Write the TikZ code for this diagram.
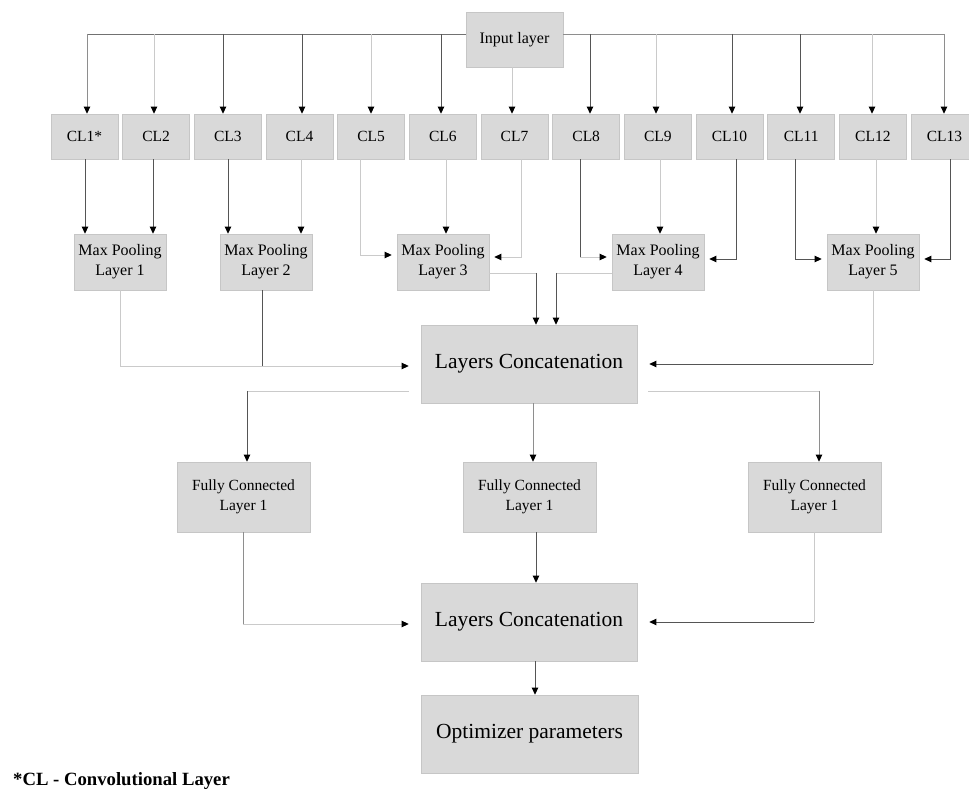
\documentclass[tikz,border=0pt]{standalone}
\usepackage{fontspec}
\setmainfont{Liberation Serif}
\usetikzlibrary{arrows.meta}
\definecolor{boxfill}{HTML}{D9D9D9}
\definecolor{boxline}{HTML}{C6C6C6}
\definecolor{dkc}{HTML}{555555}
\definecolor{mdc}{HTML}{8E8E8E}
\definecolor{ltc}{HTML}{CACACA}
\begin{document}
\begin{tikzpicture}[x=1pt,y=-1pt,
  box/.style={draw=boxline, fill=boxfill, line width=0.7pt, inner sep=0pt, align=center, text=black},
  clbox/.style={box, minimum width=67pt, minimum height=45pt, font=\fontsize{15.5}{17}\selectfont},
  mpbox/.style={box, minimum width=92pt, minimum height=56pt, font=\fontsize{16}{20}\selectfont},
  fcbox/.style={box, minimum width=133pt, minimum height=70pt, font=\fontsize{15.5}{20}\selectfont},
  bigbox/.style={box, minimum width=216pt, minimum height=78pt, font=\fontsize{21.5}{24}\selectfont},
  dk/.style={draw=dkc, line width=0.9pt},
  md/.style={draw=mdc, line width=0.9pt},
  lt/.style={draw=ltc, line width=0.9pt},
  tip/.style={-{Triangle[length=7pt,width=6.5pt,color=black]}},
  gap/.style={shorten >=5pt},
  biggap/.style={shorten >=12pt}
]
\useasboundingbox (0,0) rectangle (969,791);

% nodes
\node[box, minimum width=97pt, minimum height=55pt, font=\fontsize{16}{19}\selectfont] (inp) at (514.5,39.5) {Input layer};
\foreach \i/\lab in {1/CL1*,2/CL2,3/CL3,4/CL4,5/CL5,6/CL6,7/CL7,8/CL8,9/CL9,10/CL10,11/CL11,12/CL12,13/CL13}{
  \node[clbox] (cl\i) at ({84.5+71.67*(\i-1)},136.5) {\lab};
}
\node[mpbox] (mp1) at (120,262) {Max Pooling\\Layer 1};
\node[mpbox] (mp2) at (266,262) {Max Pooling\\Layer 2};
\node[mpbox] (mp3) at (443,262) {Max Pooling\\Layer 3};
\node[mpbox] (mp4) at (658,262) {Max Pooling\\Layer 4};
\node[mpbox] (mp5) at (873,262) {Max Pooling\\Layer 5};
\node[bigbox] (cc1) at (529,364) {Layers Concatenation};
\node[fcbox] (fc1) at (243.5,497) {Fully Connected\\Layer 1};
\node[fcbox] (fc2) at (529.5,497) {Fully Connected\\Layer 1};
\node[fcbox] (fc3) at (814.5,497) {Fully Connected\\Layer 1};
\node[bigbox] (cc2) at (529,622) {Layers Concatenation};
\node[bigbox, minimum width=217pt] (opt) at (529.5,734) {Optimizer parameters};
\node[anchor=base west, inner sep=0pt, font=\bfseries\fontsize{18.7}{20}\selectfont] (fn) at (13,785.5) {*CL - Convolutional Layer};

% bus from input layer
\coordinate (busL) at (87,34);
\coordinate (busR) at (944,34);
\draw[mdc!80!black, line width=0.9pt] (inp.west |- busL) -- (busL);
\draw[mdc, line width=0.9pt] (inp.east |- busR) -- (busR);
\foreach \x/\n/\s in {87/1/md,154/2/lt,223/3/dk,302/4/dk,371/5/lt,441/6/dk,590/8/dk,656/9/lt,732/10/dk,800/11/dk,872/12/lt,944/13/md}{
  \draw[\s, tip] (\x,34) -- (\x,0 |- cl\n.north);
}
\draw[lt, tip] (512,0 |- inp.south) -- (512,0 |- cl7.north);

% CL -> Max pooling
\draw[dk, tip] (85,0 |- cl1.south) -- (85,0 |- mp1.north);
\draw[dk, tip] (153,0 |- cl2.south) -- (153,0 |- mp1.north);
\draw[dk, tip] (228,0 |- cl3.south) -- (228,0 |- mp2.north);
\draw[lt, tip] (301,0 |- cl4.south) -- (301,0 |- mp2.north);
\draw[lt, tip, gap] (360,0 |- cl5.south) -- (360,255) -- (mp3.west |- 0,255);
\draw[lt, tip] (446,0 |- cl6.south) -- (446,0 |- mp3.north);
\draw[lt, tip, gap] (521,0 |- cl7.south) -- (521,257) -- (mp3.east |- 0,257);
\draw[dk] (580,0 |- cl8.south) -- (580,257);
\draw[lt, tip, gap] (580,257) -- (mp4.west |- 0,257);
\draw[lt, tip] (660,0 |- cl9.south) -- (660,0 |- mp4.north);
\draw[dk, tip, gap] (736,0 |- cl10.south) -- (736,259) -- (mp4.east |- 0,259);
\draw[dk, tip, gap] (795,0 |- cl11.south) -- (795,259) -- (mp5.west |- 0,259);
\draw[lt, tip] (876,0 |- cl12.south) -- (876,0 |- mp5.north);
\draw[dk, tip, gap] (950,0 |- cl13.south) -- (950,259) -- (mp5.east |- 0,259);

% Max pooling -> concatenation 1
\draw[lt] (120,0 |- mp1.south) -- (120,366);
\draw[dk] (262,0 |- mp2.south) -- (262,366);
\draw[lt, tip, biggap] (120,366) -- (cc1.west |- 0,366);
\draw[lt] (mp3.east |- 0,273) -- (536,273);
\draw[dk, tip] (536,273) -- (536,0 |- cc1.north);
\draw[lt] (mp4.west |- 0,273) -- (556,273);
\draw[dk, tip] (556,273) -- (556,0 |- cc1.north);
\draw[lt] (873,0 |- mp5.south) -- (873,364);
\draw[dk, tip, biggap] (873,364) -- (cc1.east |- 0,364);

% concatenation 1 -> fully connected
\draw[lt, shorten <=12pt] (cc1.west |- 0,391) -- (247,391);
\draw[dk, tip] (247,391) -- (247,0 |- fc1.north);
\draw[md, tip] (533,0 |- cc1.south) -- (533,0 |- fc2.north);
\draw[lt, shorten <=11pt] (cc1.east |- 0,391) -- (819,391);
\draw[md, tip] (819,391) -- (819,0 |- fc3.north);

% fully connected -> concatenation 2
\draw[md] (243,0 |- fc1.south) -- (243,624);
\draw[lt, tip, biggap] (243,624) -- (cc2.west |- 0,624);
\draw[dk, tip] (536,0 |- fc2.south) -- (536,0 |- cc2.north);
\draw[lt] (814,0 |- fc3.south) -- (814,622);
\draw[dk, tip, biggap] (814,622) -- (cc2.east |- 0,622);

% concatenation 2 -> optimizer
\draw[dk, tip] (535,0 |- cc2.south) -- (535,0 |- opt.north);
\end{tikzpicture}
\end{document}
